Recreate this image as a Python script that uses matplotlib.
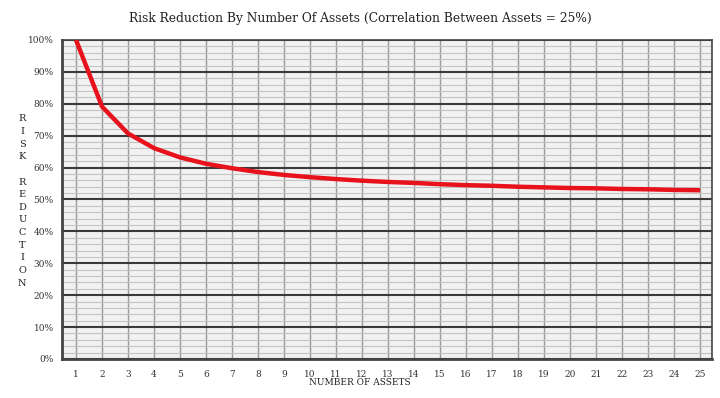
import matplotlib
matplotlib.use("Agg")
import matplotlib.pyplot as plt
from matplotlib.ticker import MultipleLocator, FuncFormatter

assets = list(range(1, 26))
risk = [1.000, 0.791, 0.707, 0.661, 0.632, 0.612, 0.598, 0.586, 0.577, 0.570,
        0.564, 0.559, 0.555, 0.552, 0.548, 0.545, 0.543, 0.540, 0.538, 0.536,
        0.535, 0.533, 0.532, 0.530, 0.529]
title = "Risk Reduction By Number Of Assets (Correlation Between Assets = 25%)"
xlabel = "NUMBER OF ASSETS"
ylabel_words = ["RISK", "REDUCTION"]

plt.rcParams['font.family'] = ['DejaVu Serif']
fig = plt.figure(figsize=(7.2, 3.98), dpi=100)
fig.patch.set_facecolor('white')
ax = fig.add_axes([0.0861, 0.098, 0.9029, 0.8015])
ax.set_facecolor('#f1f1f1')

ax.set_xlim(0.46, 25.46)
ax.set_ylim(0, 1.0)
ax.set_xticks(assets)
ax.set_xticklabels([str(a) for a in assets])
ax.yaxis.set_major_locator(MultipleLocator(0.1))
ax.yaxis.set_minor_locator(MultipleLocator(0.02))
ax.yaxis.set_major_formatter(FuncFormatter(lambda v, p: f"{int(round(v*100))}%"))

ax.tick_params(which='both', length=0, labelsize=6.5, colors='#333333')
ax.tick_params(axis='x', pad=8)
ax.tick_params(axis='y', pad=6)

ax.set_axisbelow(True)
ax.yaxis.grid(True, which='minor', color='#c4c4c4', linewidth=0.8)
ax.yaxis.grid(True, which='major', color='#3a3a3a', linewidth=1.5)
ax.xaxis.grid(True, which='major', color='#9a9a9a', linewidth=1.0)

ax.plot(assets, risk, color='#e8121c', linewidth=3.2, solid_capstyle='butt', zorder=3)

for s in ax.spines.values():
    s.set_color('#444444')
    s.set_linewidth(1.2)
ax.spines['left'].set_linewidth(2)
ax.spines['bottom'].set_linewidth(2)

fig.text(0.5, 0.953, title, ha='center', va='center', fontsize=8.8, color='#222222')
fig.text(0.5, 0.04, xlabel, ha='center', va='center', fontsize=6.5, color='#222222')
ylab = "\n".join(list(ylabel_words[0])) + "\n\n" + "\n".join(list(ylabel_words[1]))
fig.text(0.031, 0.495, ylab, ha='center', va='center', fontsize=7, color='#222222',
         linespacing=1.52)

fig.savefig("out.png", dpi=100)
